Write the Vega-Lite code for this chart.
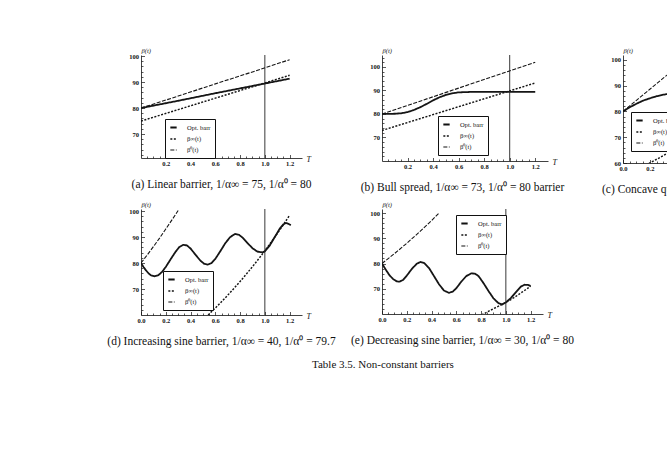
{
  "$schema": "https://vega.github.io/schema/vega-lite/v6.json",
  "background": "white",
  "padding": {"left": 107, "top": 47, "right": 5, "bottom": 5},
  "datasets": {
    "curves": [
      {"p": "a", "s": "Opt. barr", "t": 0, "v": 80},
      {"p": "a", "s": "Opt. barr", "t": 0.3, "v": 82.8},
      {"p": "a", "s": "Opt. barr", "t": 0.6, "v": 85.7},
      {"p": "a", "s": "Opt. barr", "t": 0.9, "v": 88.5},
      {"p": "a", "s": "Opt. barr", "t": 1.2, "v": 91.3},
      {"p": "a", "s": "β∞(t)", "t": 0, "v": 75},
      {"p": "a", "s": "β∞(t)", "t": 0.3, "v": 79.4},
      {"p": "a", "s": "β∞(t)", "t": 0.6, "v": 83.8},
      {"p": "a", "s": "β∞(t)", "t": 0.9, "v": 88.2},
      {"p": "a", "s": "β∞(t)", "t": 1.2, "v": 92.6},
      {"p": "a", "s": "β⁰(t)", "t": 0, "v": 80},
      {"p": "a", "s": "β⁰(t)", "t": 0.3, "v": 84.6},
      {"p": "a", "s": "β⁰(t)", "t": 0.6, "v": 89.3},
      {"p": "a", "s": "β⁰(t)", "t": 0.9, "v": 93.9},
      {"p": "a", "s": "β⁰(t)", "t": 1.2, "v": 98.6},

      {"p": "b", "s": "Opt. barr", "t": 0, "v": 80},
      {"p": "b", "s": "Opt. barr", "t": 0.1, "v": 80.1},
      {"p": "b", "s": "Opt. barr", "t": 0.15, "v": 80.3},
      {"p": "b", "s": "Opt. barr", "t": 0.2, "v": 80.8},
      {"p": "b", "s": "Opt. barr", "t": 0.25, "v": 81.7},
      {"p": "b", "s": "Opt. barr", "t": 0.3, "v": 82.9},
      {"p": "b", "s": "Opt. barr", "t": 0.35, "v": 84.3},
      {"p": "b", "s": "Opt. barr", "t": 0.4, "v": 85.8},
      {"p": "b", "s": "Opt. barr", "t": 0.45, "v": 87.1},
      {"p": "b", "s": "Opt. barr", "t": 0.5, "v": 88.1},
      {"p": "b", "s": "Opt. barr", "t": 0.55, "v": 88.8},
      {"p": "b", "s": "Opt. barr", "t": 0.6, "v": 89.2},
      {"p": "b", "s": "Opt. barr", "t": 0.7, "v": 89.4},
      {"p": "b", "s": "Opt. barr", "t": 0.9, "v": 89.4},
      {"p": "b", "s": "Opt. barr", "t": 1.2, "v": 89.4},
      {"p": "b", "s": "β∞(t)", "t": 0, "v": 73},
      {"p": "b", "s": "β∞(t)", "t": 0.6, "v": 83.1},
      {"p": "b", "s": "β∞(t)", "t": 1.2, "v": 93.2},
      {"p": "b", "s": "β⁰(t)", "t": 0, "v": 80},
      {"p": "b", "s": "β⁰(t)", "t": 0.6, "v": 91},
      {"p": "b", "s": "β⁰(t)", "t": 1.2, "v": 102},

      {"p": "c", "s": "Opt. barr", "t": 0, "v": 80},
      {"p": "c", "s": "Opt. barr", "t": 0.05, "v": 81.6},
      {"p": "c", "s": "Opt. barr", "t": 0.1, "v": 83},
      {"p": "c", "s": "Opt. barr", "t": 0.15, "v": 84.2},
      {"p": "c", "s": "Opt. barr", "t": 0.2, "v": 85.1},
      {"p": "c", "s": "Opt. barr", "t": 0.25, "v": 85.9},
      {"p": "c", "s": "Opt. barr", "t": 0.3, "v": 86.5},
      {"p": "c", "s": "Opt. barr", "t": 0.35, "v": 86.9},
      {"p": "c", "s": "Opt. barr", "t": 0.4, "v": 87.2},
      {"p": "c", "s": "Opt. barr", "t": 0.5, "v": 87.5},
      {"p": "c", "s": "β∞(t)", "t": 0.17, "v": 59.1},
      {"p": "c", "s": "β∞(t)", "t": 0.2, "v": 60},
      {"p": "c", "s": "β∞(t)", "t": 0.26, "v": 61.7},
      {"p": "c", "s": "β∞(t)", "t": 0.32, "v": 63.5},
      {"p": "c", "s": "β∞(t)", "t": 0.4, "v": 65.7},
      {"p": "c", "s": "β∞(t)", "t": 0.5, "v": 68.3},
      {"p": "c", "s": "β⁰(t)", "t": 0, "v": 80},
      {"p": "c", "s": "β⁰(t)", "t": 0.1, "v": 84.3},
      {"p": "c", "s": "β⁰(t)", "t": 0.2, "v": 88.6},
      {"p": "c", "s": "β⁰(t)", "t": 0.3, "v": 92.9},
      {"p": "c", "s": "β⁰(t)", "t": 0.4, "v": 97.2},
      {"p": "c", "s": "β⁰(t)", "t": 0.5, "v": 101.5},

      {"p": "d", "s": "Opt. barr", "t": 0, "v": 80},
      {"p": "d", "s": "Opt. barr", "t": 0.02, "v": 78.5},
      {"p": "d", "s": "Opt. barr", "t": 0.04, "v": 77.2},
      {"p": "d", "s": "Opt. barr", "t": 0.06, "v": 76.1},
      {"p": "d", "s": "Opt. barr", "t": 0.08, "v": 75.3},
      {"p": "d", "s": "Opt. barr", "t": 0.11, "v": 74.9},
      {"p": "d", "s": "Opt. barr", "t": 0.14, "v": 75.3},
      {"p": "d", "s": "Opt. barr", "t": 0.17, "v": 76.6},
      {"p": "d", "s": "Opt. barr", "t": 0.2, "v": 78.5},
      {"p": "d", "s": "Opt. barr", "t": 0.24, "v": 81.5},
      {"p": "d", "s": "Opt. barr", "t": 0.28, "v": 84.4},
      {"p": "d", "s": "Opt. barr", "t": 0.31, "v": 86.2},
      {"p": "d", "s": "Opt. barr", "t": 0.34, "v": 87},
      {"p": "d", "s": "Opt. barr", "t": 0.37, "v": 86.8},
      {"p": "d", "s": "Opt. barr", "t": 0.4, "v": 85.6},
      {"p": "d", "s": "Opt. barr", "t": 0.44, "v": 83.2},
      {"p": "d", "s": "Opt. barr", "t": 0.48, "v": 80.9},
      {"p": "d", "s": "Opt. barr", "t": 0.51, "v": 79.7},
      {"p": "d", "s": "Opt. barr", "t": 0.54, "v": 79.4},
      {"p": "d", "s": "Opt. barr", "t": 0.57, "v": 80},
      {"p": "d", "s": "Opt. barr", "t": 0.6, "v": 81.6},
      {"p": "d", "s": "Opt. barr", "t": 0.64, "v": 84.5},
      {"p": "d", "s": "Opt. barr", "t": 0.68, "v": 87.6},
      {"p": "d", "s": "Opt. barr", "t": 0.72, "v": 90},
      {"p": "d", "s": "Opt. barr", "t": 0.76, "v": 91.2},
      {"p": "d", "s": "Opt. barr", "t": 0.79, "v": 90.9},
      {"p": "d", "s": "Opt. barr", "t": 0.82, "v": 89.8},
      {"p": "d", "s": "Opt. barr", "t": 0.86, "v": 87.7},
      {"p": "d", "s": "Opt. barr", "t": 0.9, "v": 85.7},
      {"p": "d", "s": "Opt. barr", "t": 0.94, "v": 84.4},
      {"p": "d", "s": "Opt. barr", "t": 0.98, "v": 84.1},
      {"p": "d", "s": "Opt. barr", "t": 1.0, "v": 84.5},
      {"p": "d", "s": "Opt. barr", "t": 1.04, "v": 86.8},
      {"p": "d", "s": "Opt. barr", "t": 1.08, "v": 90},
      {"p": "d", "s": "Opt. barr", "t": 1.12, "v": 93.2},
      {"p": "d", "s": "Opt. barr", "t": 1.15, "v": 94.9},
      {"p": "d", "s": "Opt. barr", "t": 1.17, "v": 95.4},
      {"p": "d", "s": "Opt. barr", "t": 1.19, "v": 95.1},
      {"p": "d", "s": "Opt. barr", "t": 1.21, "v": 94.6},
      {"p": "d", "s": "β∞(t)", "t": 0.5, "v": 58.2},
      {"p": "d", "s": "β∞(t)", "t": 0.55, "v": 60.4},
      {"p": "d", "s": "β∞(t)", "t": 0.6, "v": 62.7},
      {"p": "d", "s": "β∞(t)", "t": 0.65, "v": 65.1},
      {"p": "d", "s": "β∞(t)", "t": 0.7, "v": 67.6},
      {"p": "d", "s": "β∞(t)", "t": 0.75, "v": 70.2},
      {"p": "d", "s": "β∞(t)", "t": 0.8, "v": 72.9},
      {"p": "d", "s": "β∞(t)", "t": 0.85, "v": 75.7},
      {"p": "d", "s": "β∞(t)", "t": 0.9, "v": 78.6},
      {"p": "d", "s": "β∞(t)", "t": 0.95, "v": 81.6},
      {"p": "d", "s": "β∞(t)", "t": 1.0, "v": 84.7},
      {"p": "d", "s": "β∞(t)", "t": 1.05, "v": 88},
      {"p": "d", "s": "β∞(t)", "t": 1.1, "v": 91.3},
      {"p": "d", "s": "β∞(t)", "t": 1.15, "v": 94.8},
      {"p": "d", "s": "β∞(t)", "t": 1.2, "v": 98.4},
      {"p": "d", "s": "β⁰(t)", "t": 0, "v": 80},
      {"p": "d", "s": "β⁰(t)", "t": 0.05, "v": 83.1},
      {"p": "d", "s": "β⁰(t)", "t": 0.1, "v": 86.3},
      {"p": "d", "s": "β⁰(t)", "t": 0.15, "v": 89.6},
      {"p": "d", "s": "β⁰(t)", "t": 0.2, "v": 93.1},
      {"p": "d", "s": "β⁰(t)", "t": 0.25, "v": 96.6},
      {"p": "d", "s": "β⁰(t)", "t": 0.3, "v": 100.2},

      {"p": "e", "s": "Opt. barr", "t": 0, "v": 80},
      {"p": "e", "s": "Opt. barr", "t": 0.03, "v": 77.6},
      {"p": "e", "s": "Opt. barr", "t": 0.06, "v": 75.4},
      {"p": "e", "s": "Opt. barr", "t": 0.09, "v": 73.8},
      {"p": "e", "s": "Opt. barr", "t": 0.12, "v": 72.9},
      {"p": "e", "s": "Opt. barr", "t": 0.14, "v": 72.8},
      {"p": "e", "s": "Opt. barr", "t": 0.17, "v": 73.5},
      {"p": "e", "s": "Opt. barr", "t": 0.2, "v": 75.2},
      {"p": "e", "s": "Opt. barr", "t": 0.24, "v": 77.8},
      {"p": "e", "s": "Opt. barr", "t": 0.28, "v": 79.9},
      {"p": "e", "s": "Opt. barr", "t": 0.31, "v": 80.6},
      {"p": "e", "s": "Opt. barr", "t": 0.34, "v": 80.2},
      {"p": "e", "s": "Opt. barr", "t": 0.38, "v": 78.2},
      {"p": "e", "s": "Opt. barr", "t": 0.42, "v": 75},
      {"p": "e", "s": "Opt. barr", "t": 0.46, "v": 71.8},
      {"p": "e", "s": "Opt. barr", "t": 0.5, "v": 69.3},
      {"p": "e", "s": "Opt. barr", "t": 0.54, "v": 68.4},
      {"p": "e", "s": "Opt. barr", "t": 0.57, "v": 68.8},
      {"p": "e", "s": "Opt. barr", "t": 0.6, "v": 70.2},
      {"p": "e", "s": "Opt. barr", "t": 0.64, "v": 72.8},
      {"p": "e", "s": "Opt. barr", "t": 0.68, "v": 75},
      {"p": "e", "s": "Opt. barr", "t": 0.72, "v": 76.1},
      {"p": "e", "s": "Opt. barr", "t": 0.75, "v": 76},
      {"p": "e", "s": "Opt. barr", "t": 0.78, "v": 75},
      {"p": "e", "s": "Opt. barr", "t": 0.82, "v": 72.2},
      {"p": "e", "s": "Opt. barr", "t": 0.86, "v": 69.1},
      {"p": "e", "s": "Opt. barr", "t": 0.9, "v": 66.2},
      {"p": "e", "s": "Opt. barr", "t": 0.94, "v": 64.3},
      {"p": "e", "s": "Opt. barr", "t": 0.97, "v": 63.8},
      {"p": "e", "s": "Opt. barr", "t": 1.0, "v": 64.6},
      {"p": "e", "s": "Opt. barr", "t": 1.04, "v": 66.3},
      {"p": "e", "s": "Opt. barr", "t": 1.08, "v": 68.6},
      {"p": "e", "s": "Opt. barr", "t": 1.12, "v": 70.8},
      {"p": "e", "s": "Opt. barr", "t": 1.15, "v": 71.6},
      {"p": "e", "s": "Opt. barr", "t": 1.18, "v": 71.5},
      {"p": "e", "s": "Opt. barr", "t": 1.2, "v": 71.1},
      {"p": "e", "s": "β∞(t)", "t": 0.78, "v": 59},
      {"p": "e", "s": "β∞(t)", "t": 0.85, "v": 60.8},
      {"p": "e", "s": "β∞(t)", "t": 0.9, "v": 62.1},
      {"p": "e", "s": "β∞(t)", "t": 0.95, "v": 63.3},
      {"p": "e", "s": "β∞(t)", "t": 1.0, "v": 64.6},
      {"p": "e", "s": "β∞(t)", "t": 1.05, "v": 66},
      {"p": "e", "s": "β∞(t)", "t": 1.1, "v": 67.6},
      {"p": "e", "s": "β∞(t)", "t": 1.15, "v": 69.3},
      {"p": "e", "s": "β∞(t)", "t": 1.2, "v": 71},
      {"p": "e", "s": "β⁰(t)", "t": 0, "v": 80},
      {"p": "e", "s": "β⁰(t)", "t": 0.1, "v": 83.9},
      {"p": "e", "s": "β⁰(t)", "t": 0.2, "v": 88},
      {"p": "e", "s": "β⁰(t)", "t": 0.3, "v": 92.4},
      {"p": "e", "s": "β⁰(t)", "t": 0.4, "v": 97},
      {"p": "e", "s": "β⁰(t)", "t": 0.46, "v": 100}
    ],
    "maturity": [{"t": 1}]
  },
  "title": {"text": "Table 3.5.  Non-constant barriers", "orient": "bottom", "anchor": "start", "frame": "group", "dx": 171, "offset": 12, "font": "Liberation Serif", "fontSize": 11, "fontWeight": "normal", "color": "#111"},
  "columns": 3,
  "spacing": {"row": 46, "column": 80},
  "bounds": "flush",
  "resolve": {"scale": {"x": "independent", "y": "independent", "strokeDash": "independent", "strokeWidth": "independent"}, "legend": {"strokeDash": "independent", "strokeWidth": "independent"}},
  "concat": [
    {
      "width": 161, "height": 103,
      "title": {"text": "(a) Linear barrier, 1/α∞ = 75, 1/α⁰ = 80"},
      "layer": [
        {
          "data": {"name": "curves"},
          "transform": [{"filter": "datum.p === 'a'"}],
          "mark": {"type": "line", "clip": true},
          "encoding": {
            "x": {"field": "t", "type": "quantitative", "scale": {"domain": [0, 1.229]},
              "axis": {"values": [0.05,0.1,0.15,0.2,0.25,0.3,0.35,0.4,0.45,0.5,0.55,0.6,0.65,0.7,0.75,0.8,0.85,0.9,0.95,1,1.05,1.1,1.15,1.2],
                "labelExpr": "(abs(datum.value*5-round(datum.value*5))<0.01) ? format(datum.value,'.1f') : ''",
                "tickSize": {"condition": {"test": "abs(datum.value*5-round(datum.value*5))<0.01", "value": -3.5}, "value": -2},
                "title": "T", "titleX": 165}},
            "y": {"field": "v", "type": "quantitative", "scale": {"domain": [60.8, 100.4], "zero": false},
              "axis": {"values": [62,64,66,68,70,72,74,76,78,80,82,84,86,88,90,92,94,96,98,100],
                "labelExpr": "(datum.value%10===0 && datum.value>60) ? format(datum.value,'d') : ''",
                "tickSize": {"condition": {"test": "datum.value%10===0", "value": -3.5}, "value": -2},
                "title": "β(t)"}},
            "strokeDash": {"field": "s", "type": "nominal", "scale": {"domain": ["Opt. barr", "β∞(t)", "β⁰(t)"], "range": [[1, 0], [2, 1.5], [4, 1.5]]},
              "legend": {"legendX": 24, "legendY": 64}},
            "strokeWidth": {"field": "s", "type": "nominal", "scale": {"domain": ["Opt. barr", "β∞(t)", "β⁰(t)"], "range": [1.8, 1.1, 1.1]}, "legend": null}
          }
        },
        {"data": {"name": "maturity"}, "mark": {"type": "rule"}, "encoding": {"x": {"field": "t", "type": "quantitative"}}}
      ]
    },
    {
      "width": 161, "height": 106,
      "title": {"text": "(b) Bull spread, 1/α∞ = 73, 1/α⁰ = 80 barrier"},
      "layer": [
        {
          "data": {"name": "curves"},
          "transform": [{"filter": "datum.p === 'b'"}],
          "mark": {"type": "line", "clip": true},
          "encoding": {
            "x": {"field": "t", "type": "quantitative", "scale": {"domain": [0, 1.22], "range": [0, 166]},
              "axis": {"values": [0.05,0.1,0.15,0.2,0.25,0.3,0.35,0.4,0.45,0.5,0.55,0.6,0.65,0.7,0.75,0.8,0.85,0.9,0.95,1,1.05,1.1,1.15,1.2],
                "labelExpr": "(abs(datum.value*5-round(datum.value*5))<0.01) ? format(datum.value,'.1f') : ''",
                "tickSize": {"condition": {"test": "abs(datum.value*5-round(datum.value*5))<0.01", "value": -3.5}, "value": -2},
                "title": "T", "titleX": 170}},
            "y": {"field": "v", "type": "quantitative", "scale": {"domain": [60, 105.1], "zero": false},
              "axis": {"values": [62,64,66,68,70,72,74,76,78,80,82,84,86,88,90,92,94,96,98,100,102,104],
                "labelExpr": "(datum.value%10===0 && datum.value>60) ? format(datum.value,'d') : ''",
                "tickSize": {"condition": {"test": "datum.value%10===0", "value": -3.5}, "value": -2},
                "title": "β(t)"}},
            "strokeDash": {"field": "s", "type": "nominal", "scale": {"domain": ["Opt. barr", "β∞(t)", "β⁰(t)"], "range": [[1, 0], [2, 1.5], [4, 1.5]]},
              "legend": {"legendX": 56, "legendY": 61}},
            "strokeWidth": {"field": "s", "type": "nominal", "scale": {"domain": ["Opt. barr", "β∞(t)", "β⁰(t)"], "range": [1.8, 1.1, 1.1]}, "legend": null}
          }
        },
        {"data": {"name": "maturity"}, "mark": {"type": "rule"}, "encoding": {"x": {"field": "t", "type": "quantitative"}}}
      ]
    },
    {
      "width": 161, "height": 108,
      "title": {"text": "(c) Concave quadratic barrier", "anchor": "start", "frame": "group", "dx": -21},
      "layer": [
        {
          "data": {"name": "curves"},
          "transform": [{"filter": "datum.p === 'c'"}],
          "mark": {"type": "line", "clip": true},
          "encoding": {
            "x": {"field": "t", "type": "quantitative", "scale": {"domain": [0, 1.15]},
              "axis": {"values": [0,0.05,0.1,0.15,0.2,0.25,0.3,0.35,0.4,0.45,0.5,0.55,0.6,0.65,0.7,0.75,0.8,0.85,0.9,0.95,1,1.05,1.1],
                "labelExpr": "(abs(datum.value*5-round(datum.value*5))<0.01) ? format(datum.value,'.1f') : ''",
                "tickSize": {"condition": {"test": "abs(datum.value*5-round(datum.value*5))<0.01", "value": -3.5}, "value": -2},
                "title": "T", "titleX": 165}},
            "y": {"field": "v", "type": "quantitative", "scale": {"domain": [60, 101.9], "zero": false},
              "axis": {"values": [60,62,64,66,68,70,72,74,76,78,80,82,84,86,88,90,92,94,96,98,100],
                "labelExpr": "(datum.value%10===0) ? format(datum.value,'d') : ''",
                "tickSize": {"condition": {"test": "datum.value%10===0", "value": -3.5}, "value": -2},
                "title": "β(t)"}},
            "strokeDash": {"field": "s", "type": "nominal", "scale": {"domain": ["Opt. barr", "β∞(t)", "β⁰(t)"], "range": [[1, 0], [2, 1.5], [4, 1.5]]},
              "legend": {"legendX": 8, "legendY": 57}},
            "strokeWidth": {"field": "s", "type": "nominal", "scale": {"domain": ["Opt. barr", "β∞(t)", "β⁰(t)"], "range": [1.8, 1.1, 1.1]}, "legend": null}
          }
        },
        {"data": {"name": "maturity"}, "mark": {"type": "rule"}, "encoding": {"x": {"field": "t", "type": "quantitative"}}}
      ]
    },
    {
      "width": 161, "height": 106,
      "title": {"text": "(d) Increasing sine barrier, 1/α∞ = 40, 1/α⁰ = 79.7"},
      "layer": [
        {
          "data": {"name": "curves"},
          "transform": [{"filter": "datum.p === 'd'"}],
          "mark": {"type": "line", "clip": true},
          "encoding": {
            "x": {"field": "t", "type": "quantitative", "scale": {"domain": [0, 1.22]},
              "axis": {"values": [0,0.05,0.1,0.15,0.2,0.25,0.3,0.35,0.4,0.45,0.5,0.55,0.6,0.65,0.7,0.75,0.8,0.85,0.9,0.95,1,1.05,1.1,1.15,1.2],
                "labelExpr": "(abs(datum.value*5-round(datum.value*5))<0.01) ? format(datum.value,'.1f') : ''",
                "tickSize": {"condition": {"test": "abs(datum.value*5-round(datum.value*5))<0.01", "value": -3.5}, "value": -2},
                "title": "T", "titleX": 165}},
            "y": {"field": "v", "type": "quantitative", "scale": {"domain": [60, 100.8], "zero": false},
              "axis": {"values": [62,64,66,68,70,72,74,76,78,80,82,84,86,88,90,92,94,96,98,100],
                "labelExpr": "(datum.value%10===0 && datum.value>60) ? format(datum.value,'d') : ''",
                "tickSize": {"condition": {"test": "datum.value%10===0", "value": -3.5}, "value": -2},
                "title": "β(t)"}},
            "strokeDash": {"field": "s", "type": "nominal", "scale": {"domain": ["Opt. barr", "β∞(t)", "β⁰(t)"], "range": [[1, 0], [2, 1.5], [4, 1.5]]},
              "legend": {"legendX": 22, "legendY": 62}},
            "strokeWidth": {"field": "s", "type": "nominal", "scale": {"domain": ["Opt. barr", "β∞(t)", "β⁰(t)"], "range": [1.8, 1.1, 1.1]}, "legend": null}
          }
        },
        {"data": {"name": "maturity"}, "mark": {"type": "rule"}, "encoding": {"x": {"field": "t", "type": "quantitative"}}}
      ]
    },
    {
      "width": 161, "height": 105,
      "title": {"text": "(e) Decreasing sine barrier, 1/α∞ = 30, 1/α⁰ = 80"},
      "layer": [
        {
          "data": {"name": "curves"},
          "transform": [{"filter": "datum.p === 'e'"}],
          "mark": {"type": "line", "clip": true},
          "encoding": {
            "x": {"field": "t", "type": "quantitative", "scale": {"domain": [0, 1.22]},
              "axis": {"values": [0,0.05,0.1,0.15,0.2,0.25,0.3,0.35,0.4,0.45,0.5,0.55,0.6,0.65,0.7,0.75,0.8,0.85,0.9,0.95,1,1.05,1.1,1.15,1.2],
                "labelExpr": "(abs(datum.value*5-round(datum.value*5))<0.01) ? format(datum.value,'.1f') : ''",
                "tickSize": {"condition": {"test": "abs(datum.value*5-round(datum.value*5))<0.01", "value": -3.5}, "value": -2},
                "title": "T", "titleX": 165}},
            "y": {"field": "v", "type": "quantitative", "scale": {"domain": [60, 101.6], "zero": false},
              "axis": {"values": [62,64,66,68,70,72,74,76,78,80,82,84,86,88,90,92,94,96,98,100],
                "labelExpr": "(datum.value%10===0 && datum.value>60) ? format(datum.value,'d') : ''",
                "tickSize": {"condition": {"test": "datum.value%10===0", "value": -3.5}, "value": -2},
                "title": "β(t)"}},
            "strokeDash": {"field": "s", "type": "nominal", "scale": {"domain": ["Opt. barr", "β∞(t)", "β⁰(t)"], "range": [[1, 0], [2, 1.5], [4, 1.5]]},
              "legend": {"legendX": 74, "legendY": 6}},
            "strokeWidth": {"field": "s", "type": "nominal", "scale": {"domain": ["Opt. barr", "β∞(t)", "β⁰(t)"], "range": [1.8, 1.1, 1.1]}, "legend": null}
          }
        },
        {"data": {"name": "maturity"}, "mark": {"type": "rule"}, "encoding": {"x": {"field": "t", "type": "quantitative"}}}
      ]
    }
  ],
  "config": {
    "view": {"stroke": null},
    "font": "Liberation Serif",
    "line": {"color": "#151515"},
    "rule": {"color": "#222222", "strokeWidth": 0.9},
    "title": {"orient": "bottom", "anchor": "middle", "offset": 10, "font": "Liberation Serif", "fontSize": 11.5, "fontWeight": "normal", "color": "#111111"},
    "axis": {"grid": false, "tickCount": 200, "domainColor": "#111111", "domainWidth": 0.8, "tickColor": "#111111", "tickWidth": 0.7,
      "labelFont": "Liberation Serif", "labelFontSize": 6.5, "labelFontWeight": "bold", "labelColor": "#111111", "labelPadding": 6,
      "labelFlush": false, "labelOverlap": false, "labelBound": false,
      "titleFont": "Liberation Serif", "titleColor": "#111111", "titleFontWeight": "normal", "titleFontStyle": "italic"},
    "axisX": {"titleY": 1, "titleAlign": "left", "titleBaseline": "middle", "titleFontSize": 8, "titleAngle": 0},
    "axisY": {"titleX": 0, "titleY": -2, "titleAlign": "left", "titleBaseline": "bottom", "titleFontSize": 6.5, "titleAngle": 0},
    "legend": {"orient": "none", "title": null, "direction": "vertical", "symbolType": "stroke", "symbolSize": 40, "symbolStrokeWidth": 1.3,
      "symbolStrokeColor": "#111111", "labelFont": "Liberation Serif", "labelFontSize": 6.5, "labelColor": "#111111", "labelOffset": 9,
      "padding": 4, "rowPadding": 3, "strokeColor": "#111111", "fillColor": "white", "symbolDash": null}
  }
}
